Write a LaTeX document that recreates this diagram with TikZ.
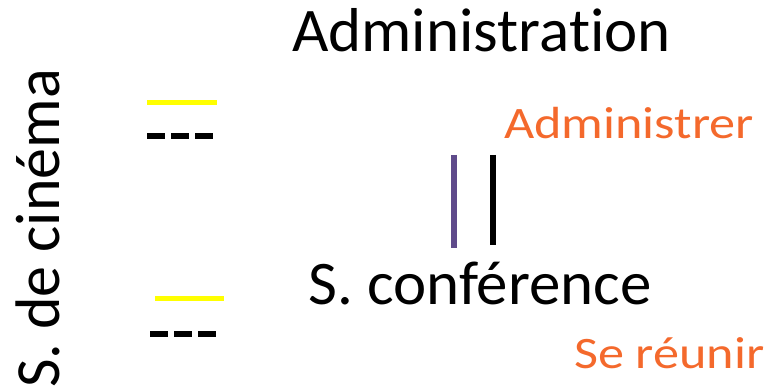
\documentclass[tikz,border=0pt]{standalone}
\usepackage{fontspec}
\setmainfont{Carlito}[Ligatures=NoCommon]
\usetikzlibrary{positioning}
\definecolor{roomOrange}{HTML}{F4692C}
\definecolor{roomPurple}{HTML}{5F4B8B}
\definecolor{roomYellow}{HTML}{FFFF00}
\tikzset{
  titleBig/.style={inner sep=0pt, anchor=base west, text=black, xscale=1.015,
                   font=\fontsize{62}{62}\selectfont},
  labelO/.style={inner sep=0pt, anchor=base west, text=roomOrange, xscale=1.16,
                 font=\fontsize{45}{45}\selectfont},
  markY/.style={roomYellow, line width=5pt},
  markD/.style={black, line width=6pt, dash pattern=on 18pt off 6pt},
  barV/.style={line width=6pt},
}
\begin{document}
\begin{tikzpicture}[x=1pt, y=-1pt]
  \useasboundingbox (0,0) rectangle (772,390);
  % texts
  \node[titleBig] (admin) at (292,52) {Administration};
  \node[labelO] (administrer) at (504,139) {Administrer};
  \node[titleBig] (conf) at (308,305) {S. conférence};
  \node[labelO] (reunir) at (574,369) {Se réunir};
  \node[titleBig, rotate=90] (cine) at (59,388) {S. de cinéma};
  % marks
  \draw[markY] (147,103) -- (217,103);
  \draw[markD] (147,136) -- (213,136);
  \draw[markY] (155,299) -- (224,299);
  \draw[markD] (150,334.5) -- (216,334.5);
  \draw[barV, roomPurple] (454,155) -- (454,248);
  \draw[barV, black] (492.5,155) -- (492.5,245);
\end{tikzpicture}
\end{document}
